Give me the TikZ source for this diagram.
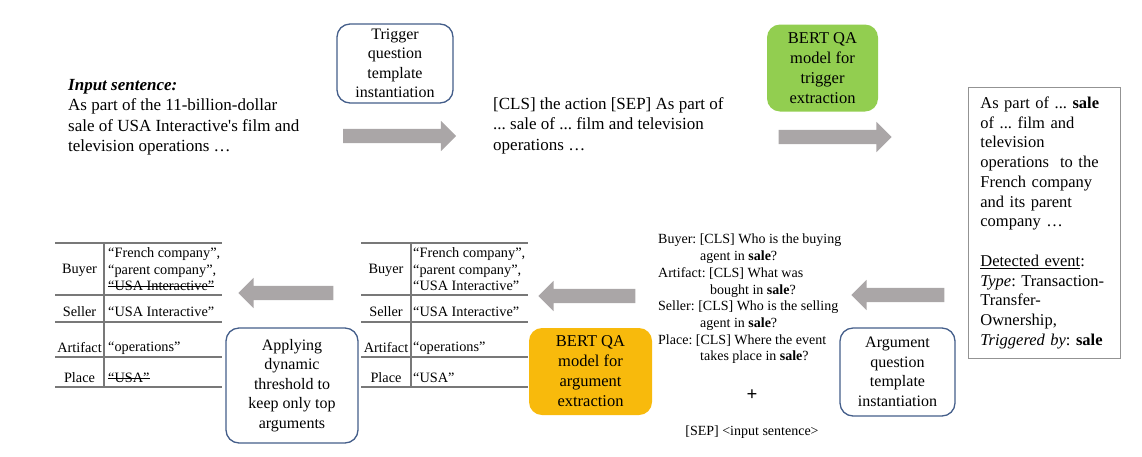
\documentclass[tikz,border=0pt]{standalone}
\usepackage{fontspec}
\setmainfont{Liberation Serif}
\usetikzlibrary{shapes.arrows}
\definecolor{boxblue}{RGB}{68,94,138}
\definecolor{trigreen}{RGB}{146,206,80}
\definecolor{argorange}{RGB}{248,186,12}
\definecolor{arrowgray}{RGB}{170,166,167}
\definecolor{rulegray}{RGB}{120,120,120}
\newsavebox\strikebox
\newcommand\strikeout[1]{\sbox\strikebox{#1}\rlap{\usebox\strikebox}\rule[0.28em]{\wd\strikebox}{0.07em}}
\frenchspacing

\begin{document}
\begin{tikzpicture}[x=1pt,y=-1pt,
              txt/.style={inner sep=0pt,align=left,font=\fontsize{17}{20.5}\selectfont},
              tplbox/.style={draw=boxblue,line width=1.3pt,rounded corners=13pt,fill=white,
                align=center,inner sep=0pt,font=\fontsize{16}{19.5}\selectfont},
              qabox/.style={rounded corners=13pt,align=center,inner sep=0pt,
                font=\fontsize{16.5}{20}\selectfont},
              fatarrow/.style={single arrow,fill=arrowgray,inner sep=7pt,
                single arrow head extend=8pt,minimum width=0pt},
              cell/.style={inner sep=0pt,font=\fontsize{14.3}{16.5}\selectfont},
              tabline/.style={draw=rulegray,line width=1.1pt}]
              \useasboundingbox (0,0) rectangle (1142,456);
              \node[txt,anchor=north west] (input) at (68,79)
                {\textbf{\textit{Input sentence:}}\\As part of the 11-billion-dollar\\sale of USA Interactive\textquotesingle s film and\\television operations …};
              \node[tplbox,minimum width=116pt,minimum height=79pt] (trigtpl) at (395,63.5)
                {Trigger\\question\\template\\instantiation};
              \node[fatarrow,minimum height=113pt] (arr1) at (396,136) {};
              \node[txt,anchor=north west] (clsin) at (493,97)
                {[CLS] the action [SEP] As part of\\... sale of ... film and television\\operations …};
              \node[qabox,fill=trigreen,minimum width=111pt,minimum height=87pt] (trigqa) at (822.5,68)
                {BERT QA\\model for\\trigger\\extraction};
              \node[fatarrow,minimum height=113pt] (arr2) at (831.5,137) {};
              \node[draw=rulegray!80,line width=0.8pt,anchor=north west,minimum width=152pt,
                minimum height=271pt,text width=128pt,align=left,inner xsep=12pt,inner ysep=0pt,
                font=\fontsize{16.5}{19.75}\selectfont] (event) at (968,87)
                {As part of ... \textbf{sale}\\of ... film and\\television\\operations\ \ to the\\French company\\and its parent\\company …\\[19.75pt]
                 \underline{Detected event}:\\\textit{Type}: Transaction-\\Transfer-\\Ownership,\\\textit{Triggered by}: \textbf{sale}};
              \node[fatarrow,minimum height=93pt,shape border rotate=180] (arr3) at (901.5,295) {};
              \node[tplbox,minimum width=115pt,minimum height=88pt] (argtpl) at (897.5,372)
                {Argument\\question\\template\\instantiation};
              \node[anchor=north west,inner sep=0pt,align=left,font=\fontsize{14}{16.7}\selectfont] (argq) at (658,234)
                {Buyer: [CLS] Who is the buying\\\hspace*{42pt}agent in \textbf{sale}?\\Artifact: [CLS] What was\\\hspace*{52pt}bought in \textbf{sale}?\\
                 Seller: [CLS] Who is the selling\\\hspace*{42pt}agent in \textbf{sale}?\\Place: [CLS] Where the event\\\hspace*{42pt}takes place in \textbf{sale}?};
              \node[font=\fontsize{19}{20}\bfseries] (plus) at (752,395) {+};
              \node[font=\fontsize{14}{16}\selectfont] (sepin) at (752,432) {[SEP] <input sentence>};
              \node[qabox,fill=argorange,minimum width=123pt,minimum height=87pt] (argqa) at (590.5,371.5)
                {BERT QA\\model for\\argument\\extraction};
              \node[fatarrow,minimum height=97pt,shape border rotate=180] (arr4) at (590.5,296) {};
              \node[fatarrow,minimum height=95pt,shape border rotate=180] (arr5) at (289.5,293) {};
              \node[tplbox,minimum width=132pt,minimum height=115pt] (thresh) at (292,385.5)
                {Applying\\dynamic\\threshold to\\keep only top\\arguments};
              \foreach \ty in {243,295,322,357,387} {
                \draw[tabline] (55,\ty) -- (222,\ty);
                \draw[tabline] (361,\ty) -- (528,\ty);
              }
              \draw[tabline] (104,243) -- (104,387);
              \draw[tabline] (411,243) -- (411,387);
              \foreach \lab/\ly in {Buyer/270,Seller/312,Artifact/348,Place/378} {
                \node[cell] (l\lab) at (79.5,\ly) {\lab};
                \node[cell] (m\lab) at (386,\ly) {\lab};
              }
              \node[cell,anchor=west,align=left] (mbuyerval) at (413,269.5)
                {“French company”,\\“parent company”,\\“USA Interactive”};
              \node[cell,anchor=west] (msellerval) at (413,312) {“USA Interactive”};
              \node[cell,anchor=west] (martval) at (413,348) {“operations”};
              \node[cell,anchor=west] (mplaceval) at (413,378) {“USA”};
              \node[cell,anchor=west,align=left] (lbuyerval) at (108,269.5)
                {“French company”,\\“parent company”,\\\strikeout{“USA Interactive”}};
              \node[cell,anchor=west] (lsellerval) at (108,312) {“USA Interactive”};
              \node[cell,anchor=west] (lartval) at (108,348) {“operations”};
              \node[cell,anchor=west] (lplaceval) at (108,378) {\strikeout{“USA”}};
            \end{tikzpicture}
\end{document}
